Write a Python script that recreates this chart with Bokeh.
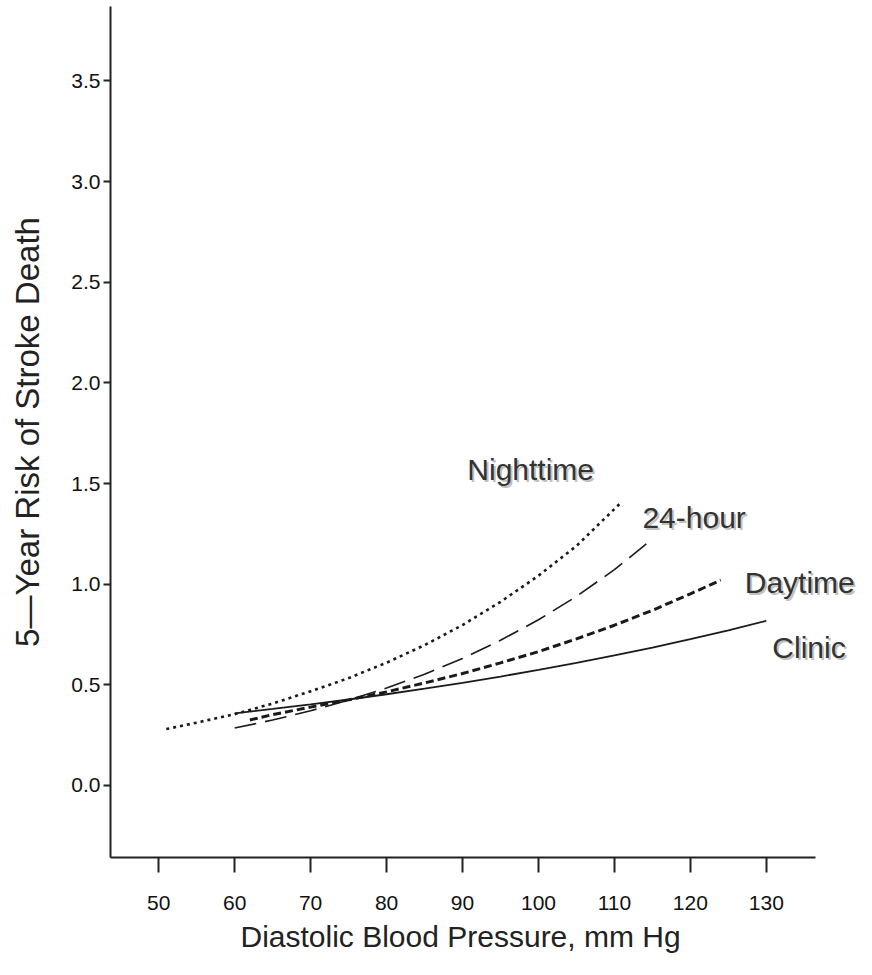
from bokeh.plotting import figure
from bokeh.models import FixedTicker, Label, PrintfTickFormatter, Title
from bokeh.embed import file_html
from bokeh.resources import INLINE

# ---- data ----
night_x = [51, 55, 60, 65, 70, 75, 80, 85, 90, 95, 100, 105, 111]
night_y = [0.280, 0.312, 0.354, 0.407, 0.468, 0.533, 0.610, 0.697, 0.797, 0.912, 1.042, 1.190, 1.410]

h24_x = [60, 65, 70, 75, 80, 85, 90, 95, 100, 105, 110, 115]
h24_y = [0.285, 0.325, 0.371, 0.424, 0.484, 0.553, 0.631, 0.721, 0.823, 0.939, 1.072, 1.224]

day_x = [62, 65, 70, 75, 80, 85, 90, 95, 100, 105, 110, 115, 120, 124]
day_y = [0.325, 0.352, 0.389, 0.425, 0.465, 0.509, 0.556, 0.609, 0.665, 0.728, 0.796, 0.870, 0.952, 1.020]

clinic_x = [60, 65, 70, 75, 80, 85, 90, 95, 100, 105, 110, 115, 120, 125, 130]
clinic_y = [0.358, 0.380, 0.403, 0.427, 0.453, 0.481, 0.510, 0.541, 0.574, 0.609, 0.646, 0.685, 0.727, 0.771, 0.818]

series_names = ["Nighttime", "24-hour", "Daytime", "Clinic"]
x_ticks = [50, 60, 70, 80, 90, 100, 110, 120, 130]
y_ticks = [0.0, 0.5, 1.0, 1.5, 2.0, 2.5, 3.0, 3.5]
x_axis_extent = (43.65, 136.5)
x_title = "Diastolic Blood Pressure, mm Hg"
y_title = "5\u2014Year Risk of Stroke Death"

INK = "#1a1a1a"

p = figure(width=872, height=975,
           x_range=(43.65, 143.98), y_range=(-0.358, 3.870),
           output_backend="svg", toolbar_location=None,
           min_border_left=110, min_border_right=0,
           min_border_top=6, min_border_bottom=118)
p.outline_line_color = None
p.grid.visible = False
p.background_fill_color = "white"
p.border_fill_color = "white"

# curves
p.line(night_x, night_y, line_color=INK, line_width=2.6, line_dash="3 4")
p.line(h24_x, h24_y, line_color=INK, line_width=1.6, line_dash="22 9")
p.line(day_x, day_y, line_color=INK, line_width=3.0, line_dash="8 4")
p.line(clinic_x, clinic_y, line_color=INK, line_width=1.8)

# labels anchored at each curve's end point
ends_x = [night_x[-1], h24_x[-1], day_x[-1], clinic_x[-1]]
ends_y = [night_y[-1], h24_y[-1], day_y[-1], clinic_y[-1]]
dx = [-28, -10, 24, 6]
dy = [32, 22, -2, -27]          # screen px, positive = up for Label
align = ["right", "left", "left", "left"]
for name, ex, ey, ox, oy, al in zip(series_names, ends_x, ends_y, dx, dy, align):
    p.add_layout(Label(x=ex, y=ey, text=name, x_offset=ox + 2, y_offset=oy - 2,
                       text_align=al, text_baseline="alphabetic",
                       text_font="Liberation Sans", text_font_size="30px",
                       text_color="#8c8c8c", text_alpha=0.55))
    p.add_layout(Label(x=ex, y=ey, text=name, x_offset=ox, y_offset=oy,
                       text_align=al, text_baseline="alphabetic",
                       text_font="Liberation Sans", text_font_size="30px",
                       text_color="#333333"))

# axes
for ax in (p.xaxis[0], p.yaxis[0]):
    ax.axis_line_color = "#222222"
    ax.axis_line_width = 2
    ax.major_tick_line_color = "#222222"
    ax.major_tick_line_width = 2
    ax.major_tick_in = 0
    ax.minor_tick_line_color = None
    ax.major_label_text_font = "Liberation Sans"
    ax.major_label_text_font_size = "21px"
    ax.major_label_text_color = "#111111"
    ax.axis_label_text_font = "Liberation Sans"
    ax.axis_label_text_font_style = "normal"
    ax.axis_label_text_color = "#222222"

p.xaxis.bounds = x_axis_extent
p.xaxis.ticker = FixedTicker(ticks=x_ticks)
p.yaxis.ticker = FixedTicker(ticks=y_ticks)
p.yaxis.formatter = PrintfTickFormatter(format="%.1f")
p.xaxis.major_tick_out = 15
p.yaxis.major_tick_out = 7
p.xaxis.major_label_standoff = 23
p.yaxis.major_label_standoff = 3
p.yaxis.axis_label = y_title
p.yaxis.axis_label_text_font_size = "33px"
p.yaxis.axis_label_standoff = 22

# x-axis title, placed under the drawn part of the axis
p.add_layout(Title(text=x_title, align="left", offset=130, standoff=10,
                   text_font="Liberation Sans", text_font_size="30px",
                   text_font_style="normal", text_color="#222222"), "below")

open("out.html", "w").write(file_html(p, INLINE))
